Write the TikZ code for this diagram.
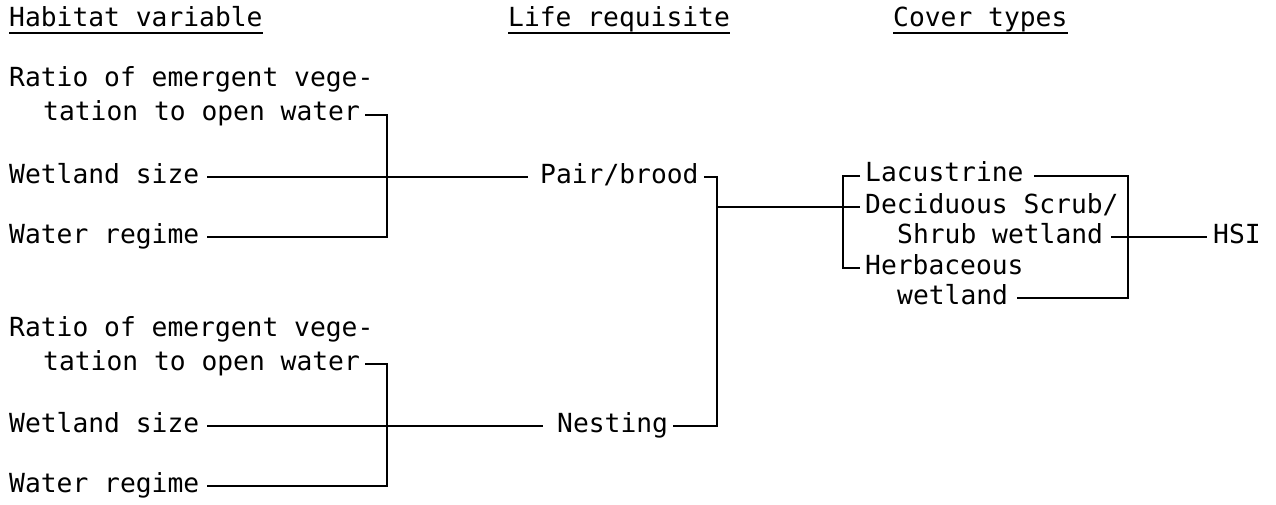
\documentclass[tikz,border=0pt]{standalone}
\usepackage{fontspec}
\newfontfamily\tw{DejaVu Sans Mono}
\begin{document}
\begin{tikzpicture}[x=1pt,y=-1pt,
  lbl/.style={anchor=base west, inner sep=0pt, font=\tw\fontsize{26.3}{30}\selectfont},
  conn/.style={line width=1.8pt, line join=miter},
  ul/.style={line width=1.8pt}]
\useasboundingbox (0,0) rectangle (1276,505);
% headers
\node[lbl] (h1) at (9,27) {Habitat variable};
\node[lbl] (h2) at (508,27) {Life requisite};
\node[lbl] (h3) at (893,27) {Cover types};
\foreach \h in {h1,h2,h3}
  \draw[ul] ([yshift=-6pt]\h.base west) -- ([yshift=-6pt]\h.base east);
% group 1
\node[lbl] (a1) at (9,87) {Ratio of emergent vege-};
\node[lbl] (a2) at (43,121) {tation to open water};
\node[lbl] (a3) at (9,183) {Wetland size};
\node[lbl] (a4) at (9,243) {Water regime};
\coordinate (ja) at (387,177);
\draw[conn] ([xshift=5pt,yshift=6pt]a2.base east) -| (ja);
\draw[conn] ([xshift=8pt,yshift=6pt]a4.base east) -| (ja);
\node[lbl] (pb) at (540,183) {Pair/brood};
\draw[conn] ([xshift=8pt,yshift=6pt]a3.base east) -- ([xshift=-12pt,yshift=6pt]pb.base west);
% group 2
\node[lbl] (b1) at (9,336) {Ratio of emergent vege-};
\node[lbl] (b2) at (43,370) {tation to open water};
\node[lbl] (b3) at (9,432) {Wetland size};
\node[lbl] (b4) at (9,492) {Water regime};
\coordinate (jc) at (387,426);
\draw[conn] ([xshift=5pt,yshift=6pt]b2.base east) -| (jc);
\draw[conn] ([xshift=8pt,yshift=6pt]b4.base east) -| (jc);
\node[lbl] (ns) at (557,432) {Nesting};
\draw[conn] ([xshift=8pt,yshift=6pt]b3.base east) -- ([xshift=-14pt,yshift=6pt]ns.base west);
% life requisite bracket
\coordinate (jb) at (717,207);
\draw[conn] ([xshift=5pt,yshift=6pt]pb.base east) -| (jb);
\draw[conn] ([xshift=5pt,yshift=6pt]ns.base east) -| (jb);
% cover types
\node[lbl] (c1) at (865,182) {Lacustrine};
\node[lbl] (c2) at (865,213) {Deciduous Scrub/};
\node[lbl] (c3) at (897,243) {Shrub wetland};
\node[lbl] (c4) at (865,274) {Herbaceous};
\node[lbl] (c5) at (897,304) {wetland};
\coordinate (jd) at (843,207);
\draw[conn] ([xshift=-5pt,yshift=6pt]c1.base west) -| (jd) |- ([xshift=-5pt,yshift=6pt]c4.base west);
\draw[conn] (jb) -- ([xshift=-5pt,yshift=6pt]c2.base west);
\coordinate (je) at (1128,237);
\draw[conn] ([xshift=10pt,yshift=6pt]c1.base east) -| (je);
\draw[conn] ([xshift=9pt,yshift=6pt]c5.base east) -| (je);
\node[lbl] (hsi) at (1213,243) {HSI};
\draw[conn] ([xshift=8pt,yshift=6pt]c3.base east) -- ([xshift=-6pt,yshift=6pt]hsi.base west);
\end{tikzpicture}
\end{document}
